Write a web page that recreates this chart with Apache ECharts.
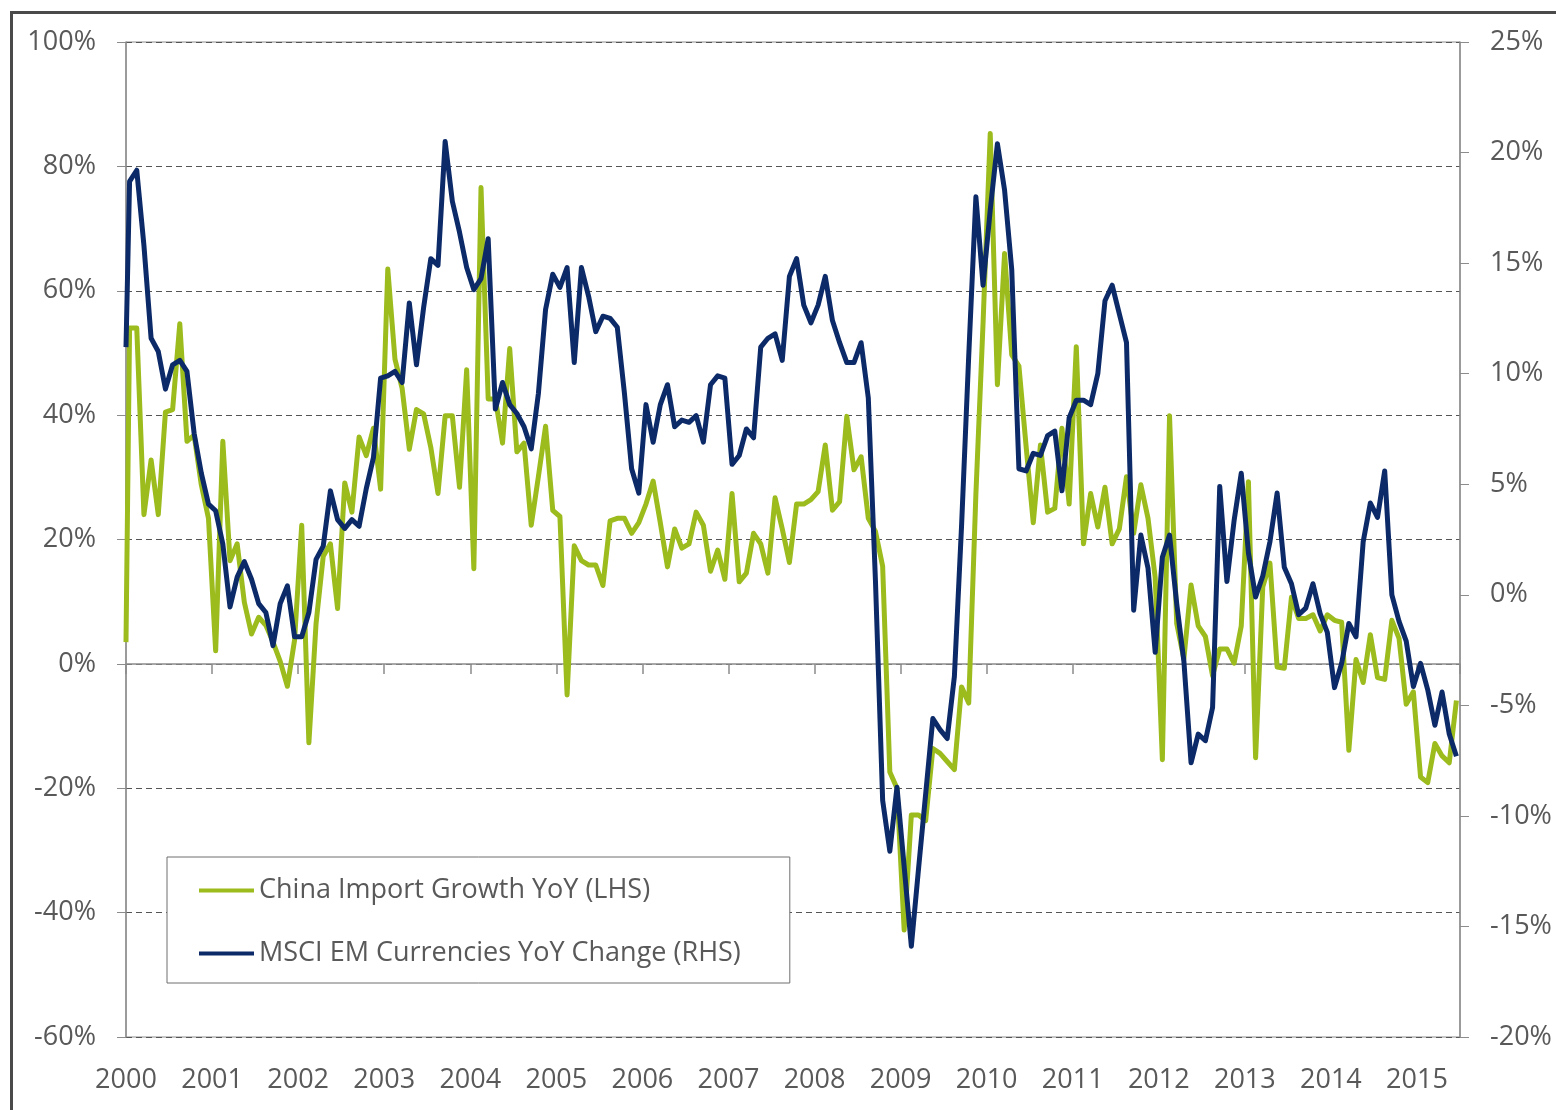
<!DOCTYPE html>
<html>
<head>
<meta charset="utf-8">
<title>China Imports vs EM Currencies</title>
<script src="https://cdn.jsdelivr.net/npm/echarts@6/dist/echarts.min.js"></script>
<style>
  html, body { margin: 0; padding: 0; background: #fff; }
  #main { width: 1556px; height: 1110px; }
</style>
</head>
<body>
<div id="main"></div>
<script>
// monthly data Jan 2000 .. Jun 2015; the first value of each list is the
// reading where the line enters at the left edge of the plot
var axisMonths = 186;     // Jan 2000 .. Jun 2015
var startYear = 2000;

// China import growth YoY, % (left axis)
var chinaImports = [
  3.5,
  54, 54, 24.0, 32.8, 24.0, 40.5, 40.9, 54.7, 35.8, 36.8, 28.8, 23.4,
  2.1, 35.8, 16.6, 19.3, 9.9, 4.8, 7.5, 6.2, 3.5, 0.4, -3.6, 3.8,
  22.3, -12.7, 6.5, 17.3, 19.3, 8.9, 29.1, 24.4, 36.5, 33.5, 37.9, 28.1,
  63.5, 49.0, 44.3, 34.5, 40.9, 40.2, 34.8, 27.4, 39.9, 39.9, 28.4, 47.3,
  15.3, 76.6, 42.6, 42.6, 35.5, 50.7, 34.1, 35.5, 22.3, 30.1, 38.2, 24.7,
  23.7, -5.0, 19.0, 16.6, 15.9, 15.9, 12.6, 23.0, 23.4, 23.4, 21.0, 22.7,
  25.7, 29.4, 22.7, 15.6, 21.7, 18.6, 19.3, 24.4, 22.3, 14.9, 18.3, 13.6,
  27.4, 13.2, 14.6, 21.0, 19.3, 14.6, 26.7, 21.7, 16.3, 25.7, 25.7, 26.4,
  27.7, 35.2, 24.7, 26.1, 39.8, 31.2, 33.3, 23.4, 21.3, 15.7, -17.4, -20.0,
  -42.8, -24.3, -24.3, -25.2, -13.6, -14.4, -15.7, -17.0, -3.7, -6.3, 27.3, 54.8,
  85.3, 44.9, 66.0, 49.7, 47.9, 35.0, 22.7, 35.2, 24.4, 25.0, 37.9, 25.7,
  51.0, 19.3, 27.4, 22.0, 28.4, 19.3, 21.7, 30.1, 21.0, 28.8, 23.4, 13.9,
  -15.4, 39.9, 6.5, 0.8, 12.7, 6.1, 4.4, -1.9, 2.4, 2.4, 0.1, 6.1,
  29.3, -15.1, 12.4, 16.2, -0.5, -0.7, 10.7, 7.3, 7.3, 7.9, 5.3, 7.9,
  7.0, 6.7, -13.9, 0.7, -3.0, 4.7, -2.2, -2.5, 7.0, 4.1, -6.5, -4.5,
  -18.2, -19.1, -12.8, -14.8, -15.9, -5.9
];

// MSCI EM currencies YoY change, % (right axis)
var emCurrencies = [
  11.2,
  18.7, 19.2, 15.8, 11.6, 11.0, 9.3, 10.4, 10.6, 10.1, 7.3, 5.5, 4.1,
  3.8, 2.3, -0.55, 0.8, 1.5, 0.7, -0.4, -0.8, -2.3, -0.4, 0.4, -1.9,
  -1.9, -0.8, 1.6, 2.2, 4.7, 3.4, 3.0, 3.4, 3.1, 4.8, 6.2, 9.8,
  9.9, 10.1, 9.6, 13.2, 10.4, 13.0, 15.2, 14.9, 20.5, 17.8, 16.4, 14.8,
  13.8, 14.3, 16.1, 8.4, 9.6, 8.6, 8.2, 7.6, 6.6, 9.1, 12.9, 14.5,
  13.9, 14.8, 10.5, 14.8, 13.5, 11.9, 12.6, 12.5, 12.1, 9.1, 5.7, 4.6,
  8.6, 6.9, 8.6, 9.5, 7.6, 7.9, 7.8, 8.1, 6.9, 9.5, 9.9, 9.8,
  5.9, 6.3, 7.5, 7.1, 11.2, 11.6, 11.8, 10.6, 14.4, 15.2, 13.1, 12.3,
  13.1, 14.4, 12.4, 11.4, 10.5, 10.5, 11.4, 8.9, 0.6, -9.3, -11.6, -8.7,
  -12.3, -15.9, -12.4, -9.0, -5.6, -6.1, -6.5, -3.7, 3.1, 10.8, 18.0, 14.0,
  17.4, 20.4, 18.3, 14.7, 5.7, 5.6, 6.4, 6.3, 7.2, 7.4, 4.7, 8.0,
  8.8, 8.8, 8.6, 10.0, 13.3, 14.0, 12.7, 11.4, -0.7, 2.7, 1.2, -2.6,
  1.7, 2.7, -0.4, -3.0, -7.6, -6.3, -6.6, -5.1, 4.9, 0.6, 3.35, 5.5,
  1.9, -0.1, 0.85, 2.4, 4.6, 1.25, 0.5, -0.9, -0.6, 0.5, -0.85, -1.7,
  -4.2, -3.1, -1.3, -1.9, 2.4, 4.15, 3.5, 5.6, 0.0, -1.2, -2.1, -4.15,
  -3.1, -4.3, -5.9, -4.4, -6.3, -7.3
];

var seriesNames = ['China Import Growth YoY (LHS)', 'MSCI EM Currencies YoY Change (RHS)'];

// edge reading at month 0, then each month in the middle of its slot
function toPoints(values) {
  return values.map(function (v, k) { return [k === 0 ? 0 : k - 0.5, v]; });
}

var font = '"Open Sans", "Noto Sans", sans-serif';
var textGrey = '#595959';
var lineGrey = '#8c8c8c';

var chart = echarts.init(document.getElementById('main'));
chart.setOption({
  animation: false,
  backgroundColor: '#fff',
  graphic: [{
    type: 'rect',
    left: 9, top: 10,
    shape: { width: 1600, height: 1200 },
    style: { fill: 'none', stroke: '#4a4a4a', lineWidth: 3 },
    silent: true
  }],
  grid: {
    left: 126, right: 96, top: 42, bottom: 73,
    show: true, borderColor: lineGrey, borderWidth: 1, backgroundColor: 'transparent'
  },
  legend: {
    left: 167, top: 857,
    orient: 'vertical',
    data: seriesNames,
    icon: 'rect',
    itemWidth: 55, itemHeight: 4,
    itemGap: 32,
    padding: [18, 49, 14, 32],
    backgroundColor: '#fff',
    borderColor: '#6f6f6f', borderWidth: 1,
    textStyle: { fontFamily: font, fontSize: 27, color: textGrey, lineHeight: 31 }
  },
  xAxis: [{
    type: 'value', min: 0, max: axisMonths, interval: 12,
    position: 'bottom',
    axisLine: { show: false, onZero: false },
    axisTick: { show: false },
    splitLine: { show: false },
    axisLabel: {
      margin: 30, fontFamily: font, fontSize: 27, color: textGrey,
      formatter: function (v) { return v % 12 === 0 ? String(startYear + v / 12) : ''; }
    }
  }, {
    // the 0% line with yearly ticks
    type: 'value', min: 0, max: axisMonths, interval: 12,
    position: 'bottom',
    axisLine: { onZero: true, onZeroAxisIndex: 0, lineStyle: { color: lineGrey, width: 1.5 } },
    axisTick: { show: true, length: 10, lineStyle: { color: lineGrey, width: 1.5 } },
    axisLabel: { show: false },
    splitLine: { show: false }
  }],
  yAxis: [{
    type: 'value', min: -60, max: 100, interval: 20,
    position: 'left',
    axisLine: { show: true, onZero: false, lineStyle: { color: lineGrey, width: 1.5 } },
    axisTick: { show: true, length: 9, lineStyle: { color: lineGrey } },
    axisLabel: { margin: 30, fontFamily: font, fontSize: 27, color: textGrey, formatter: '{value}%' },
    splitLine: { show: true, lineStyle: { color: '#555', width: 1, type: [6, 4] } }
  }, {
    type: 'value', min: -20, max: 25, interval: 5,
    position: 'right',
    axisLine: { show: true, onZero: false, lineStyle: { color: lineGrey, width: 1.5 } },
    axisTick: { show: true, length: 9, lineStyle: { color: lineGrey } },
    axisLabel: { margin: 30, fontFamily: font, fontSize: 27, color: textGrey, formatter: '{value}%' },
    splitLine: { show: false }
  }],
  series: [{
    name: seriesNames[0],
    type: 'line',
    xAxisIndex: 0, yAxisIndex: 0,
    data: toPoints(chinaImports),
    showSymbol: false, symbol: 'none',
    itemStyle: { color: '#9cbb1d' },
    lineStyle: { color: '#9cbb1d', width: 5, join: 'round' }
  }, {
    name: seriesNames[1],
    type: 'line',
    xAxisIndex: 0, yAxisIndex: 1,
    data: toPoints(emCurrencies),
    showSymbol: false, symbol: 'none',
    itemStyle: { color: '#0c2a68' },
    lineStyle: { color: '#0c2a68', width: 5, join: 'round' }
  }]
});
</script>
</body>
</html>
